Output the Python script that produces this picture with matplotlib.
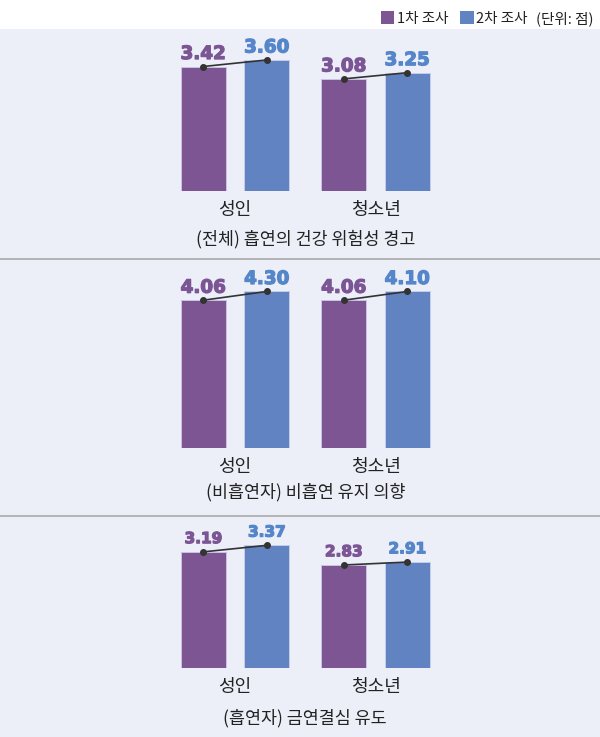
import numpy as np
import matplotlib
matplotlib.use("Agg")
import matplotlib.pyplot as plt
import matplotlib.patheffects as pe
from matplotlib.patches import Rectangle, Patch
from matplotlib.lines import Line2D

plt.rcParams['font.family'] = ['Noto Sans CJK KR', 'DejaVu Sans']

# data
groups = ['성인', '청소년']
titles = ['(전체) 흡연의 건강 위험성 경고',
          '(비흡연자) 비흡연 유지 의향',
          '(흡연자) 금연결심 유도']
first_vals = [[3.42, 3.08], [4.06, 4.06], [3.19, 2.83]]
second_vals = [[3.60, 3.25], [4.30, 4.10], [3.37, 2.91]]
# bar heights as drawn in the picture (the 4.10 bar is drawn as tall as 4.30)
second_drawn = [[3.60, 3.25], [4.30, 4.30], [3.37, 2.91]]
series_names = ['1차 조사', '2차 조사']

purple = '#7c5592'
blue = '#6283c1'
purple_txt = '#7b5594'
blue_txt = '#5586c9'
bg = '#eceef8'

W, H = 600, 737
fig = plt.figure(figsize=(W / 100, H / 100), dpi=100)
fig.patch.set_facecolor('white')

# lavender background under the legend strip
fig.add_artist(Rectangle((0, 0), 1, 1 - 29 / H, transform=fig.transFigure,
                         facecolor=bg, edgecolor='none', zorder=0))
for yline in (259, 516):
    fig.add_artist(Line2D([0, 1], [1 - yline / H] * 2, transform=fig.transFigure,
                          color='#aaaaaa', lw=1.2, zorder=1))

unit = 140.5          # px per group step
ypx = 36.4            # px per score point
baselines = [191, 448, 668]
title_gap = [48.5, 44.5, 50]
label_sizes = [13.2, 13.2, 11]
label_gap = [5.4, 5.4, 6.3]

x = np.arange(len(groups))
off = 0.226
bw = 0.32
x0, x1 = -0.6, 1.6
ymax = 5.0


def value_label(ax, xpos, ypos, val, color, size, gap):
    ax.annotate(f'{val:.2f}', (xpos, ypos), xytext=(0, gap),
                textcoords='offset points', ha='center', va='baseline',
                color=color, fontsize=size, fontweight='bold',
                family='DejaVu Sans', zorder=3,
                path_effects=[pe.withStroke(linewidth=0.9, foreground=color)])


for i in range(3):
    left = 235 - (0 - x0) * unit
    ax = fig.add_axes([left / W, (H - baselines[i]) / H,
                       (x1 - x0) * unit / W, ymax * ypx / H])
    ax.set_xlim(x0, x1)
    ax.set_ylim(0, ymax)
    ax.axis('off')
    ax.patch.set_alpha(0)

    ax.bar(x - off, first_vals[i], bw, color=purple, edgecolor='#c9c3e2',
           lw=0.7, zorder=2)
    ax.bar(x + off, second_drawn[i], bw, color=blue, edgecolor='#c6cdea',
           lw=0.7, zorder=2)

    for j in range(len(groups)):
        ax.plot([x[j] - off, x[j] + off], [first_vals[i][j], second_drawn[i][j]],
                color='#333333', lw=1.2, marker='o', ms=4, zorder=4)
        value_label(ax, x[j] - off, first_vals[i][j], first_vals[i][j],
                    purple_txt, label_sizes[i], label_gap[i])
        value_label(ax, x[j] + off, second_drawn[i][j], second_vals[i][j],
                    blue_txt, label_sizes[i], label_gap[i])
        ax.annotate(groups[j], (x[j], 0), xytext=(0, -14), textcoords='offset points',
                    ha='center', va='center', fontsize=13, color='#222222')

    ax.annotate(titles[i], (0.5, 0), xytext=(0, -title_gap[i] * 0.72),
                textcoords='offset points', ha='center', va='center',
                fontsize=12.5, color='#222222')

leg = fig.legend(handles=[Patch(facecolor=purple), Patch(facecolor=blue)],
                 labels=series_names, ncol=2, frameon=False, fontsize=10.5,
                 loc='center right', bbox_to_anchor=(528 / W, 1 - 18.5 / H),
                 handlelength=0.9, handleheight=0.9, handletextpad=0.2,
                 columnspacing=0.8, borderpad=0, borderaxespad=0)
for t in leg.get_texts():
    t.set_color('#222222')
fig.text(593 / W, 1 - 18.5 / H, '(단위: 점)', ha='right', va='center',
         fontsize=10.5, color='#222222')

fig.savefig('out.png', dpi=100)
